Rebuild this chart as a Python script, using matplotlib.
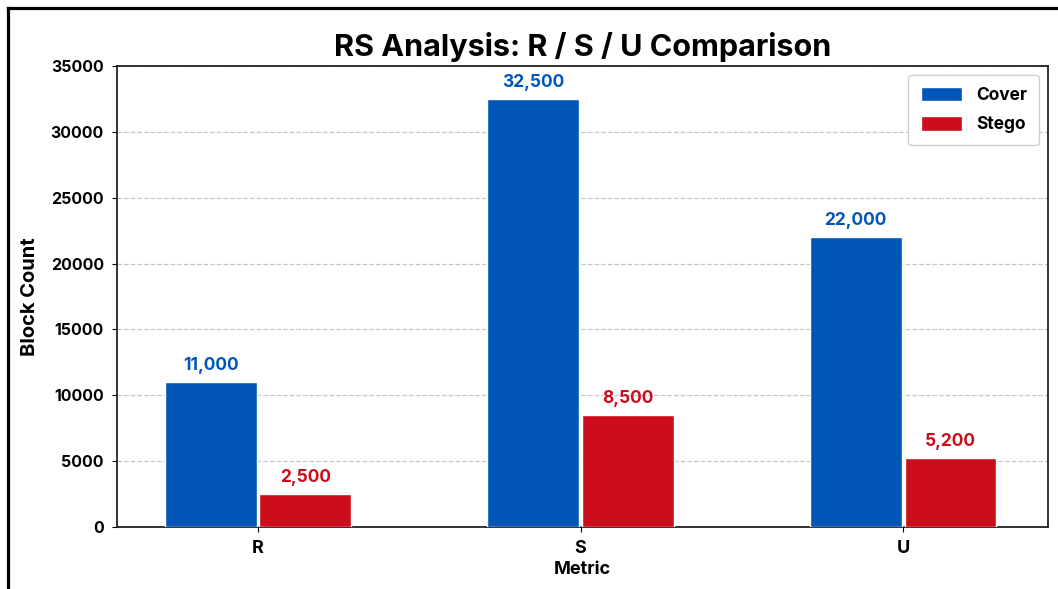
import numpy as np
import matplotlib
matplotlib.use("Agg")
import matplotlib.pyplot as plt
from matplotlib.lines import Line2D

plt.rcParams['font.family'] = ['Inter', 'DejaVu Sans']
plt.rcParams['font.weight'] = 'bold'

metrics = ["R", "S", "U"]
cover = [11000, 32500, 22000]
stego = [2500, 8500, 5200]
cover_labels = ["11,000", "32,500", "22,000"]
stego_labels = ["2,500", "8,500", "5,200"]

blue = "#0057B8"
red = "#CC0D1B"

fig = plt.figure(figsize=(10.58, 5.89), dpi=100)
ax = fig.add_axes([0.1106, 0.1053, 0.8799, 0.7827])

x = np.arange(len(metrics))
w = 0.285
b1 = ax.bar(x - 0.147, cover, w, color=blue, edgecolor="white", linewidth=1, label="Cover", zorder=3)
b2 = ax.bar(x + 0.147, stego, w, color=red, edgecolor="white", linewidth=1, label="Stego", zorder=3)

# value labels above each bar
for rect, txt in zip(b1, cover_labels):
    ax.annotate(txt, (rect.get_x() + rect.get_width() / 2, rect.get_height()),
                xytext=(0, 6), textcoords="offset points", ha="center", va="bottom",
                color=blue, fontsize=12.5, fontweight="bold")
for rect, txt in zip(b2, stego_labels):
    ax.annotate(txt, (rect.get_x() + rect.get_width() / 2, rect.get_height()),
                xytext=(0, 6), textcoords="offset points", ha="center", va="bottom",
                color=red, fontsize=12.5, fontweight="bold")

ax.set_xlim(-0.437, 2.449)
ax.set_ylim(0, 35000)
ax.set_yticks(np.arange(0, 35001, 5000))
ax.set_xticks(x)
ax.set_xticklabels(metrics, fontsize=13, fontweight="bold")
for t in ax.get_yticklabels():
    t.set_fontweight("bold")
    t.set_fontsize(11.5)
ax.tick_params(axis="y", pad=6)
ax.tick_params(axis="x", pad=6)

ax.yaxis.grid(True, linestyle="--", color="#c8c8c8", linewidth=0.9, zorder=0)
ax.set_axisbelow(True)
for s in ax.spines.values():
    s.set_color("#222222")
    s.set_linewidth(1.3)

ax.set_title("RS Analysis: R / S / U Comparison", fontsize=22, fontweight="bold", pad=7)
ax.set_ylabel("Block Count", fontsize=14.5, fontweight="bold", labelpad=8)
ax.set_xlabel("Metric", fontsize=13, fontweight="bold", labelpad=3)

leg = ax.legend(loc="upper right", prop={"weight": "bold", "size": 12.5},
                handlelength=2.4, handleheight=0.9, borderpad=0.7, labelspacing=0.7,
                framealpha=1, edgecolor="#d0d0d0", fancybox=True)

# outer frame lines (left and top)
fx = 7.5 / 1058
fy = 1 - 7.5 / 589
fig.add_artist(Line2D([fx, fx], [0, fy], transform=fig.transFigure, color="black", linewidth=2.3))
fig.add_artist(Line2D([fx, 1], [fy, fy], transform=fig.transFigure, color="black", linewidth=2.3))

fig.savefig("out.png", dpi=100)
